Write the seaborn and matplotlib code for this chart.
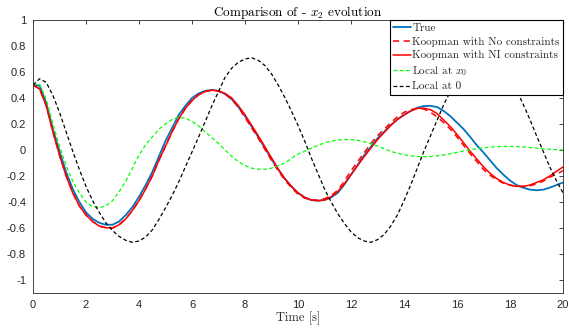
import numpy as np
import pandas as pd
import matplotlib
matplotlib.use("Agg")
import matplotlib.pyplot as plt
import seaborn as sns

t = [i * 0.25 for i in range(81)]

true_x2 = [
    0.50, 0.495, 0.36, 0.16, -0.01, -0.17, -0.30, -0.40,
    -0.48, -0.53, -0.56, -0.575, -0.575, -0.55, -0.50, -0.44,
    -0.36, -0.27, -0.17, -0.05, 0.07, 0.17, 0.27, 0.34,
    0.40, 0.435, 0.455, 0.462, 0.455, 0.43, 0.39, 0.33,
    0.26, 0.18, 0.10, 0.015, -0.07, -0.15, -0.22, -0.28,
    -0.33, -0.365, -0.385, -0.39, -0.385, -0.365, -0.33, -0.265,
    -0.19, -0.115, -0.04, 0.025, 0.09, 0.14, 0.19, 0.235,
    0.27, 0.30, 0.325, 0.338, 0.34, 0.33, 0.30, 0.26,
    0.21, 0.16, 0.10, 0.035, -0.02, -0.08, -0.14, -0.19,
    -0.235, -0.27, -0.29, -0.305, -0.31, -0.305, -0.29, -0.27,
    -0.25]

koop_none = [
    0.50, 0.47, 0.34, 0.14, -0.04, -0.20, -0.33, -0.43,
    -0.50, -0.55, -0.585, -0.598, -0.60, -0.575, -0.53, -0.465,
    -0.39, -0.30, -0.20, -0.08, 0.03, 0.14, 0.24, 0.32,
    0.38, 0.425, 0.45, 0.46, 0.452, 0.43, 0.39, 0.33,
    0.25, 0.17, 0.09, 0.005, -0.08, -0.16, -0.23, -0.29,
    -0.34, -0.37, -0.385, -0.385, -0.375, -0.35, -0.31, -0.24,
    -0.16, -0.09, -0.02, 0.05, 0.11, 0.16, 0.21, 0.255,
    0.29, 0.31, 0.32, 0.315, 0.29, 0.255, 0.21, 0.16,
    0.10, 0.035, -0.03, -0.09, -0.15, -0.195, -0.23, -0.255,
    -0.27, -0.28, -0.28, -0.275, -0.26, -0.24, -0.21, -0.185,
    -0.16]

koop_ni = [
    0.50, 0.47, 0.34, 0.14, -0.04, -0.20, -0.33, -0.43,
    -0.50, -0.55, -0.585, -0.598, -0.60, -0.575, -0.53, -0.465,
    -0.39, -0.30, -0.20, -0.08, 0.03, 0.14, 0.24, 0.32,
    0.38, 0.425, 0.45, 0.46, 0.455, 0.435, 0.40, 0.34,
    0.27, 0.19, 0.11, 0.025, -0.06, -0.145, -0.22, -0.28,
    -0.33, -0.365, -0.385, -0.39, -0.385, -0.36, -0.32, -0.26,
    -0.19, -0.12, -0.05, 0.015, 0.08, 0.135, 0.19, 0.235,
    0.27, 0.30, 0.32, 0.322, 0.31, 0.28, 0.23, 0.18,
    0.12, 0.055, -0.01, -0.07, -0.13, -0.18, -0.22, -0.25,
    -0.27, -0.28, -0.28, -0.27, -0.25, -0.23, -0.20, -0.165,
    -0.13]

local_x0 = [
    0.51, 0.505, 0.39, 0.20, 0.03, -0.12, -0.24, -0.33,
    -0.40, -0.435, -0.445, -0.43, -0.39, -0.32, -0.24, -0.14,
    -0.04, 0.04, 0.10, 0.16, 0.20, 0.235, 0.25, 0.245,
    0.22, 0.185, 0.14, 0.095, 0.05, 0.0, -0.05, -0.09,
    -0.12, -0.14, -0.148, -0.148, -0.14, -0.12, -0.10, -0.065,
    -0.03, -0.01, 0.015, 0.035, 0.055, 0.068, 0.077, 0.081,
    0.08, 0.074, 0.063, 0.047, 0.03, 0.01, -0.01, -0.025,
    -0.037, -0.045, -0.05, -0.052, -0.05, -0.045, -0.038, -0.028,
    -0.018, -0.008, 0.002, 0.01, 0.017, 0.022, 0.025, 0.027,
    0.027, 0.026, 0.023, 0.019, 0.014, 0.009, 0.005, 0.002,
    0.0]

local_0 = [
    0.50, 0.548, 0.52, 0.42, 0.29, 0.14, -0.01, -0.15,
    -0.28, -0.39, -0.48, -0.56, -0.62, -0.665, -0.695, -0.71,
    -0.70, -0.67, -0.615, -0.535, -0.445, -0.35, -0.245, -0.13,
    -0.015, 0.10, 0.22, 0.34, 0.45, 0.56, 0.63, 0.675,
    0.70, 0.71, 0.69, 0.65, 0.585, 0.50, 0.405, 0.30,
    0.19, 0.07, -0.06, -0.18, -0.30, -0.40, -0.49, -0.565,
    -0.63, -0.675, -0.70, -0.71, -0.69, -0.65, -0.585, -0.50,
    -0.39, -0.27, -0.14, -0.01, 0.11, 0.23, 0.35, 0.45,
    0.53, 0.60, 0.655, 0.69, 0.71, 0.705, 0.68, 0.625,
    0.55, 0.46, 0.35, 0.235, 0.11, -0.01, -0.13, -0.235,
    -0.33]

series_names = ["True", "Koopman with No constraints", "Koopman with NI constraints",
                "Local at $x_0$", "Local at 0"]
series_values = [true_x2, koop_none, koop_ni, local_x0, local_0]

xticks = [0, 2, 4, 6, 8, 10, 12, 14, 16, 18, 20]
yticks = [-1, -0.8, -0.6, -0.4, -0.2, 0, 0.2, 0.4, 0.6, 0.8, 1]
ytick_labels = ["-1", "-0.8", "-0.6", "-0.4", "-0.2", "0", "0.2", "0.4", "0.6", "0.8", "1"]
xtick_labels = [str(v) for v in xticks]

# ---- style ----
sns.set_style("white")
plt.rcParams["font.family"] = ["Liberation Sans", "DejaVu Sans"]
plt.rcParams["mathtext.fontset"] = "cm"
plt.rcParams["axes.unicode_minus"] = False

styles = {
    "True": dict(color="#0072BD", linestyle="-", linewidth=1.3),
    "Koopman with No constraints": dict(color="#FF0000", linestyle=(0, (4, 3)), linewidth=1.1),
    "Koopman with NI constraints": dict(color="#FF0000", linestyle="-", linewidth=1.1),
    "Local at $x_0$": dict(color="#00FF00", linestyle=(0, (3, 2)), linewidth=0.9),
    "Local at 0": dict(color="#000000", linestyle=(0, (3, 2)), linewidth=0.9),
}

fig = plt.figure(figsize=(5.69, 3.35), dpi=100)
ax = fig.add_axes([0.058, 0.1254, 0.9315, 0.8149])

for name, vals in zip(series_names, series_values):
    df = pd.DataFrame({"t": t, "v": vals})
    st = styles[name]
    sns.lineplot(data=df, x="t", y="v", ax=ax, color=st["color"],
                 linewidth=st["linewidth"], label=name)
    ax.lines[-1].set_linestyle(st["linestyle"])

ax.set_xlim(0, 20)
ax.set_ylim(-1.1, 1)
ax.set_xticks(xticks)
ax.set_xticklabels(xtick_labels)
ax.set_yticks(yticks)
ax.set_yticklabels(ytick_labels)

axc = "#262626"
for s in ax.spines.values():
    s.set_visible(True)
    s.set_color(axc)
    s.set_linewidth(0.6)
ax.tick_params(direction="in", length=3, width=0.6, color=axc, labelcolor=axc,
               labelsize=8, top=True, right=True, pad=5)

cm = dict(family="cmr10")
ax.set_title(r"Comparison of - $x_2$ evolution", fontsize=9.5, fontdict=cm, pad=3, color="#000000")
ax.set_xlabel("Time [s]", fontsize=9, fontdict=cm, labelpad=1, color="#262626")
ax.set_ylabel("")

leg = ax.legend(loc="upper right", borderaxespad=0, frameon=True, fancybox=False,
                prop={"family": "cmr10", "size": 8}, handlelength=1.6, handletextpad=0.1,
                labelspacing=0.33, borderpad=0.3)
leg.get_frame().set_edgecolor("#000000")
leg.get_frame().set_linewidth(0.8)
leg.get_frame().set_alpha(1)
for h, name in zip(leg.get_lines(), series_names):
    h.set_linestyle(styles[name]["linestyle"])

fig.savefig("out.png", dpi=100)
